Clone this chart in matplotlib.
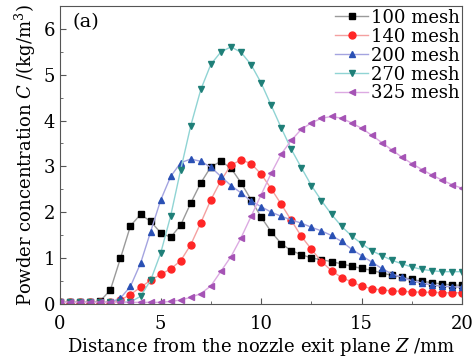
import matplotlib
matplotlib.use("Agg")
import matplotlib.pyplot as plt

plt.rcParams['font.family'] = ['DejaVu Serif']
plt.rcParams['mathtext.fontset'] = 'dejavuserif'

# distance from nozzle exit plane (mm)
z = [0, 0.5, 1, 1.5, 2, 2.5, 3, 3.5, 4, 4.5, 5, 5.5, 6, 6.5, 7, 7.5, 8, 8.5, 9, 9.5,
     10, 10.5, 11, 11.5, 12, 12.5, 13, 13.5, 14, 14.5, 15, 15.5, 16, 16.5, 17, 17.5,
     18, 18.5, 19, 19.5, 20]

c100 = [0.03, 0.03, 0.03, 0.03, 0.06, 0.30, 0.99, 1.70, 1.95, 1.80, 1.55, 1.45, 1.72, 2.20,
        2.64, 2.99, 3.11, 2.96, 2.64, 2.27, 1.89, 1.57, 1.31, 1.16, 1.07, 1.00, 0.96, 0.92,
        0.87, 0.82, 0.77, 0.73, 0.67, 0.62, 0.58, 0.53, 0.49, 0.46, 0.43, 0.41, 0.40]
c140 = [0.03, 0.03, 0.03, 0.03, 0.03, 0.03, 0.08, 0.20, 0.36, 0.51, 0.64, 0.76, 0.94, 1.29,
        1.77, 2.27, 2.69, 3.03, 3.14, 3.06, 2.83, 2.51, 2.17, 1.82, 1.47, 1.19, 0.92, 0.72,
        0.57, 0.48, 0.38, 0.33, 0.30, 0.28, 0.27, 0.26, 0.25, 0.25, 0.24, 0.24, 0.24]
c200 = [0.03, 0.03, 0.03, 0.03, 0.03, 0.03, 0.12, 0.38, 0.88, 1.57, 2.26, 2.78, 3.08, 3.16,
        3.11, 2.98, 2.78, 2.58, 2.42, 2.24, 2.12, 2.00, 1.91, 1.83, 1.76, 1.67, 1.59, 1.49,
        1.36, 1.19, 1.05, 0.91, 0.77, 0.65, 0.58, 0.50, 0.45, 0.41, 0.38, 0.37, 0.36]
c270 = [0.03, 0.03, 0.03, 0.03, 0.03, 0.03, 0.03, 0.04, 0.16, 0.51, 1.10, 1.92, 2.93, 3.89,
        4.68, 5.23, 5.50, 5.61, 5.49, 5.22, 4.82, 4.33, 3.84, 3.37, 2.97, 2.58, 2.25, 1.95,
        1.69, 1.48, 1.31, 1.16, 1.05, 0.95, 0.87, 0.80, 0.75, 0.72, 0.70, 0.70, 0.70]
c325 = [0.03, 0.03, 0.03, 0.03, 0.03, 0.03, 0.03, 0.03, 0.03, 0.03, 0.03, 0.05, 0.08, 0.14,
        0.22, 0.39, 0.71, 1.03, 1.44, 1.91, 2.38, 2.85, 3.27, 3.57, 3.81, 3.95, 4.05, 4.09,
        4.05, 3.95, 3.83, 3.68, 3.52, 3.36, 3.20, 3.06, 2.93, 2.81, 2.70, 2.60, 2.52]

labels = ['100 mesh', '140 mesh', '200 mesh', '270 mesh', '325 mesh']
markers = ['s', 'o', '^', 'v', '<']
mcolors = ['#000000', '#ff2626', '#2a50b4', '#1f7f78', '#a553b5']
lcolors = ['#9a9a9a', '#f4a0a0', '#a4a4e0', '#90d4d4', '#dcaae2']

fig = plt.figure(figsize=(4.77, 3.59), dpi=100)
ax = fig.add_axes([0.126, 0.154, 0.843, 0.829])

for data, lab, m, mc, lc in zip([c100, c140, c200, c270, c325], labels, markers, mcolors, lcolors):
    ax.plot(z, data, color=lc, lw=1.0, marker=m, markersize=5,
            markerfacecolor=mc, markeredgecolor=mc, label=lab)

ax.set_xlim(0, 20)
ax.set_ylim(0, 6.5)
ax.set_xticks([0, 5, 10, 15, 20])
ax.set_xticks([2.5, 7.5, 12.5, 17.5], minor=True)
ax.set_yticks([0, 1, 2, 3, 4, 5, 6])
ax.set_yticks([0.5, 1.5, 2.5, 3.5, 4.5, 5.5], minor=True)
ax.tick_params(which='both', direction='in', labelsize=13, color='#555555')
ax.tick_params(which='major', length=4)
ax.tick_params(which='minor', length=2)
ax.tick_params(axis='x', which='major', pad=8)
for s in ax.spines.values():
    s.set_color('#555555')

ax.set_xlabel('Distance from the nozzle exit plane $Z$ /mm', fontsize=13, labelpad=2)
ax.set_ylabel('Powder concentration $C$ /(kg/m$^3$)', fontsize=13, labelpad=4)

ax.text(0.03, 0.975, '(a)', transform=ax.transAxes, fontsize=14, va='top', ha='left')

ax.legend(loc='upper right', frameon=False, fontsize=13, handlelength=1.8,
          handletextpad=0.15, labelspacing=0.05, borderaxespad=0.05, borderpad=0.1)

fig.savefig('out.png', dpi=100)
